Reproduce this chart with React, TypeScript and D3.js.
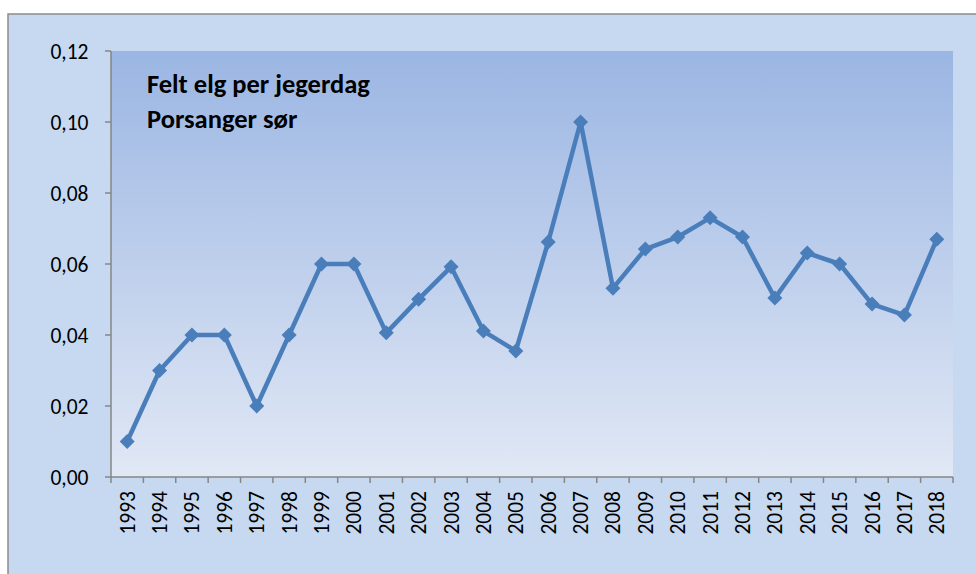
import React from "react";
import * as d3 from "d3";

const years = ["1993","1994","1995","1996","1997","1998","1999","2000","2001","2002","2003","2004","2005","2006","2007","2008","2009","2010","2011","2012","2013","2014","2015","2016","2017","2018"];
const values = [0.010,0.030,0.040,0.040,0.020,0.040,0.060,0.060,0.0406,0.0501,0.0592,0.0411,0.0355,0.0662,0.100,0.0532,0.0642,0.0676,0.0730,0.0676,0.0504,0.0631,0.0600,0.0487,0.0456,0.0670];
const yTicks = [0,0.02,0.04,0.06,0.08,0.10,0.12];
const titleLines = ["Felt elg per jegerdag","Porsanger sør"];

export default function App() {
  const W = 976, H = 574;
  const L = 111, R = 953, T = 51, B = 477;
  const x = d3.scaleBand<string>().domain(years).range([L, R]).padding(0);
  const y = d3.scaleLinear().domain([0, 0.12]).range([B, T]);
  const cx = (d: string) => (x(d) as number) + x.bandwidth() / 2;
  const line = d3.line<number>().x((_, i) => cx(years[i])).y((v) => y(v));
  const fmt = (v: number) => v.toFixed(2).replace(".", ",");
  const font = "Carlito, 'Liberation Sans', 'Open Sans', sans-serif";
  const boundaries = d3.range(years.length + 1).map((i) => L + i * x.bandwidth());
  const diamond = 7.5;
  return (
    <svg width={W} height={H} style={{ position: "absolute", left: 0, top: 0 }}>
      <defs>
        <linearGradient id="pg" x1="0" y1="0" x2="0" y2="1">
          <stop offset="0" stopColor="#9bb6e3" />
          <stop offset="1" stopColor="#e1e8f5" />
        </linearGradient>
      </defs>
      <rect x={0} y={0} width={W} height={H} fill="#ffffff" />
      <rect x={8} y={14} width={W + 10} height={H} fill="#c6d9f1" stroke="#8c8c8c" strokeWidth={1.5} />
      <rect x={L} y={T} width={R - L} height={B - T} fill="url(#pg)" />
      <line x1={L} x2={L} y1={T} y2={B} stroke="#868686" strokeWidth={1.5} />
      <line x1={L} x2={R} y1={B} y2={B} stroke="#868686" strokeWidth={1.5} />
      {yTicks.map((t) => (
        <g key={t}>
          <line x1={L - 6} x2={L} y1={y(t)} y2={y(t)} stroke="#868686" strokeWidth={1.5} />
          <text x={88.5} y={y(t)} dy="0.35em" textAnchor="end" fontFamily={font} fontSize={21.5} fill="#000">{fmt(t)}</text>
        </g>
      ))}
      {boundaries.map((bx, i) => (
        <line key={i} x1={bx} x2={bx} y1={B} y2={B + 6} stroke="#868686" strokeWidth={1.5} />
      ))}
      {years.map((yr) => (
        <text key={yr} transform={`translate(${cx(yr)},${491}) rotate(-90)`} dy="0.35em" textAnchor="end" fontFamily={font} fontSize={21.5} fill="#000">{yr}</text>
      ))}
      <path d={line(values) || ""} fill="none" stroke="#4a7ebb" strokeWidth={4.5} strokeLinejoin="round" />
      {values.map((v, i) => {
        const px = cx(years[i]), py = y(v);
        return (
          <path key={i} d={`M${px},${py - diamond}L${px + diamond},${py}L${px},${py + diamond}L${px - diamond},${py}Z`} fill="#4a7ebb" />
        );
      })}
      {titleLines.map((s, i) => (
        <text key={s} x={147} y={93 + i * 35} fontFamily={font} fontWeight="bold" fontSize={26.5} fill="#000">{s}</text>
      ))}
    </svg>
  );
}
